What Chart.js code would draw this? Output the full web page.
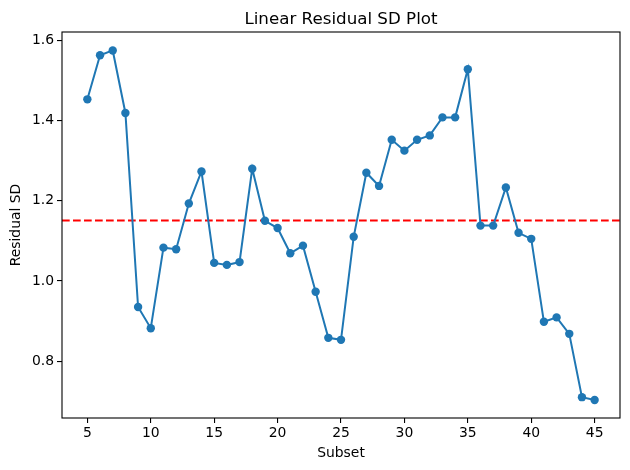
<!DOCTYPE html>
<html>
<head>
<meta charset="utf-8">
<script src="https://cdn.jsdelivr.net/npm/chart.js@4"></script>
<style>
  html, body { margin: 0; padding: 0; background: #fff; }
  canvas { display: block; }
</style>
</head>
<body>
<canvas id="chart" width="630" height="470"></canvas>
<script>
// subsets and their residual SD
const subsets = [5, 6, 7, 8, 9, 10, 11, 12, 13, 14, 15, 16, 17, 18, 19, 20, 21, 22, 23, 24, 25,
  26, 27, 28, 29, 30, 31, 32, 33, 34, 35, 36, 37, 38, 39, 40, 41, 42, 43, 44, 45];
const residualSD = [1.453, 1.563, 1.575, 1.419, 0.935, 0.882, 1.083, 1.079, 1.193, 1.273, 1.045,
  1.040, 1.047, 1.280, 1.150, 1.132, 1.069, 1.088, 0.973, 0.858, 0.853,
  1.110, 1.270, 1.237, 1.352, 1.325, 1.352, 1.363, 1.408, 1.408, 1.528,
  1.138, 1.138, 1.233, 1.120, 1.105, 0.898, 0.909, 0.868, 0.710, 0.703];
const meanSD = 1.151;

const xTicks = [5, 10, 15, 20, 25, 30, 35, 40, 45];
const yTicks = [0.8, 1.0, 1.2, 1.4, 1.6];
const xMin = 3, xMax = 47;
const yMin = 0.658, yMax = 1.621;

const font = { family: 'DejaVu Sans', size: 13.9 };

const framePlugin = {
  id: 'frame',
  afterDraw(chart) {
    const { ctx, chartArea: a } = chart;
    ctx.save();
    ctx.strokeStyle = '#000';
    ctx.lineWidth = 1.1;
    ctx.strokeRect(a.left, a.top, a.right - a.left, a.bottom - a.top);
    ctx.fillStyle = '#000';
    ctx.font = '16.7px "DejaVu Sans"';
    ctx.textAlign = 'center';
    ctx.textBaseline = 'alphabetic';
    ctx.fillText('Linear Residual SD Plot', (a.left + a.right) / 2, a.top - 8);
    ctx.restore();
  }
};

new Chart(document.getElementById('chart').getContext('2d'), {
  type: 'line',
  data: {
    datasets: [
      {
        data: subsets.map((s, i) => ({ x: s, y: residualSD[i] })),
        borderColor: '#1f77b4',
        backgroundColor: '#1f77b4',
        borderWidth: 2,
        pointRadius: 4.2,
        pointBorderWidth: 0,
        tension: 0,
      },
      {
        data: [{ x: xMin, y: meanSD }, { x: xMax, y: meanSD }],
        borderColor: '#ff0000',
        borderWidth: 2,
        borderDash: [7.7, 3.3],
        pointRadius: 0,
      },
    ],
  },
  options: {
    responsive: false,
    animation: false,
    layout: { padding: { left: 0, right: 10, top: 32, bottom: 0 } },
    plugins: {
      legend: { display: false },
      tooltip: { enabled: false },
    },
    scales: {
      x: {
        type: 'linear',
        min: xMin,
        max: xMax,
        afterBuildTicks: (scale) => { scale.ticks = xTicks.map((v) => ({ value: v })); },
        afterFit: (scale) => { scale.height = 52; },
        grid: { display: true, drawOnChartArea: false, drawTicks: true, tickLength: 5, color: '#000', lineWidth: 1.1 },
        border: { display: false },
        ticks: { color: '#000', font: font, padding: 2, maxRotation: 0 },
        title: { display: true, text: 'Subset', color: '#000', font: font, padding: { top: 0, bottom: 8 } },
      },
      y: {
        type: 'linear',
        min: yMin,
        max: yMax,
        afterBuildTicks: (scale) => { scale.ticks = yTicks.map((v) => ({ value: v })); },
        afterFit: (scale) => { scale.width = 62; },
        grid: { display: true, drawOnChartArea: false, drawTicks: true, tickLength: 5, color: '#000', lineWidth: 1.1 },
        border: { display: false },
        ticks: { color: '#000', font: font, padding: 3, callback: (v) => v.toFixed(1) },
        title: { display: true, text: 'Residual SD', color: '#000', font: font, padding: { top: 8, bottom: 0 } },
      },
    },
  },
  plugins: [framePlugin],
});
</script>
</body>
</html>
